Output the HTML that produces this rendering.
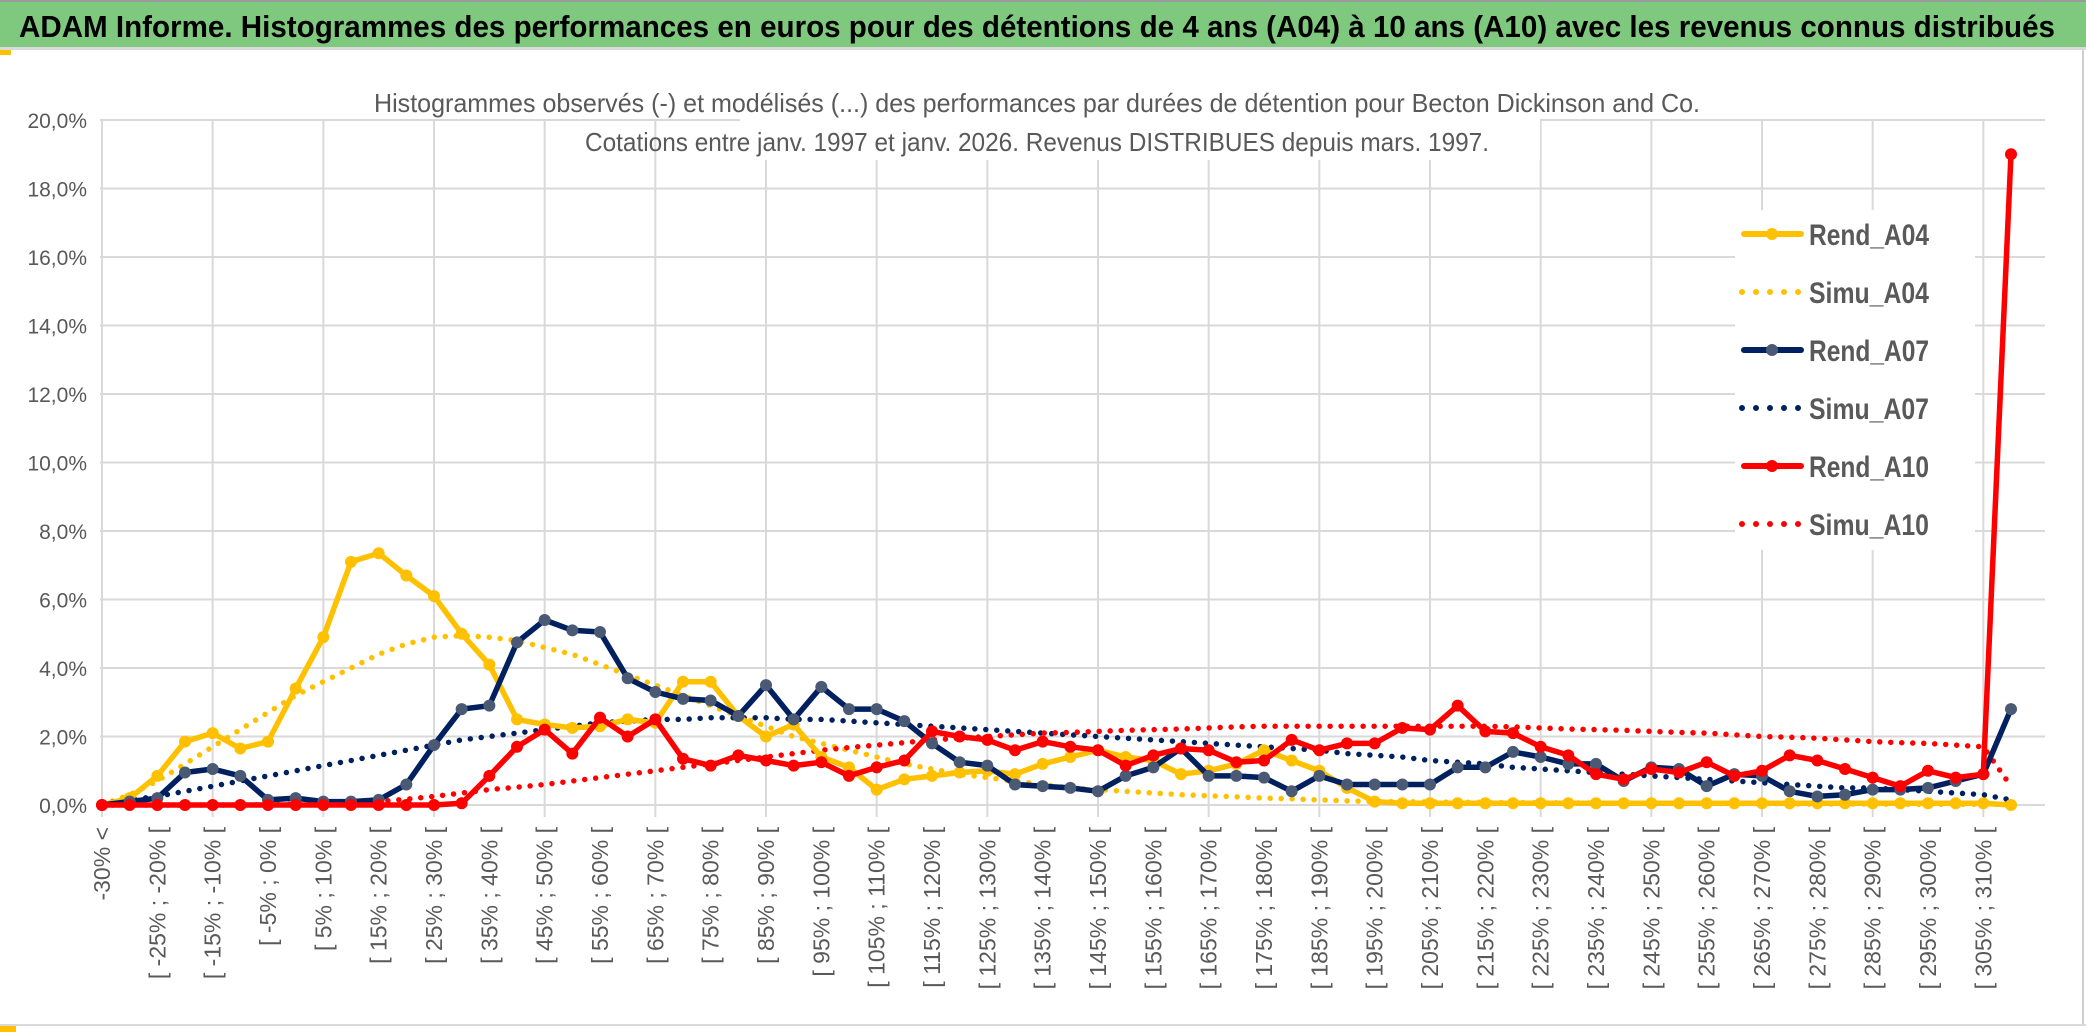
<!DOCTYPE html>
<html><head><meta charset="utf-8"><style>
html,body{margin:0;padding:0;background:#fff;}
svg{display:block;font-family:"Liberation Sans",sans-serif;}
</style></head><body>
<svg id="chart" width="2086" height="1033" viewBox="0 0 2086 1033">
<rect x="0" y="0" width="2086" height="1033" fill="#fff"/>
<rect x="0" y="0" width="2086" height="2" fill="#9a9a9a"/>
<rect x="0" y="2" width="2086" height="45" fill="#7ec97e"/>
<rect x="0" y="47" width="2086" height="3" fill="#d9d9d9"/>
<rect x="0" y="50" width="11" height="5" fill="#ffc000"/>
<rect x="2082" y="50" width="2" height="975" fill="#d0d0d0"/>
<text x="19" y="37" font-size="31" font-weight="bold" fill="#000" textLength="2036" lengthAdjust="spacingAndGlyphs">ADAM Informe. Histogrammes des performances en euros pour des détentions de 4 ans (A04) à 10 ans (A10) avec les revenus connus distribués</text>
<rect x="0" y="1024" width="2086" height="2" fill="#d9d9d9"/>
<rect x="0" y="1026" width="16" height="6" fill="#ffc000"/>
<g id="grid"></g>
<g id="series"></g>
<rect x="1735" y="210" width="240" height="340" fill="#fff"/>
<g id="legend"></g>
<rect x="740" y="80" width="800" height="80" fill="#fff"/>
<text x="1037" y="112" font-size="26" fill="#595959" text-anchor="middle" textLength="1326" lengthAdjust="spacingAndGlyphs">Histogrammes observés (-) et modélisés (...) des performances par durées de détention pour Becton Dickinson and Co.</text>
<text x="1037" y="151" font-size="26" fill="#595959" text-anchor="middle" textLength="904" lengthAdjust="spacingAndGlyphs">Cotations entre janv. 1997 et janv. 2026. Revenus DISTRIBUES depuis mars. 1997.</text>
<g id="axes"></g>
</svg>
<script>
const categories = ["-30% <"];
for (let k = -30; k <= 305; k += 5) categories.push("[ " + k + "% ; " + (k + 5) + "% [");
categories.push("> 310%");
const yTicks = [0, 2, 4, 6, 8, 10, 12, 14, 16, 18, 20];
const yTickLabels = ["0,0%","2,0%","4,0%","6,0%","8,0%","10,0%","12,0%","14,0%","16,0%","18,0%","20,0%"];
const rendA04 = [0,0.2,0.85,1.85,2.1,1.65,1.85,3.4,4.9,7.1,7.35,6.7,6.1,5.0,4.1,2.5,2.35,2.25,2.3,2.5,2.4,3.6,3.6,2.6,2.0,2.35,1.4,1.1,0.45,0.75,0.85,0.95,1.0,0.9,1.2,1.4,1.6,1.4,1.3,0.9,1.0,1.2,1.6,1.3,1.0,0.5,0.1,0.05,0.05,0.05,0.05,0.05,0.05,0.05,0.05,0.05,0.05,0.05,0.05,0.05,0.05,0.05,0.05,0.05,0.05,0.05,0.05,0.05,0.05,0];
const simuA04 = [0,0.3,0.7,1.2,1.7,2.2,2.7,3.2,3.6,4.0,4.4,4.7,4.9,4.95,4.9,4.8,4.6,4.4,4.1,3.8,3.5,3.2,2.9,2.6,2.3,2.0,1.8,1.6,1.4,1.2,1.05,0.9,0.8,0.7,0.6,0.5,0.45,0.4,0.35,0.3,0.27,0.24,0.2,0.18,0.15,0.12,0.1,0.1,0.09,0.08,0.08,0.07,0.07,0.06,0.06,0.05,0.05,0.05,0.04,0.04,0.04,0.03,0.03,0.03,0.03,0.02,0.02,0.02,0.02,0.02];
const rendA07 = [0,0.1,0.2,0.95,1.05,0.85,0.15,0.2,0.1,0.1,0.15,0.6,1.75,2.8,2.9,4.75,5.4,5.1,5.05,3.7,3.3,3.1,3.05,2.6,3.5,2.5,3.45,2.8,2.8,2.45,1.8,1.25,1.15,0.6,0.55,0.5,0.4,0.85,1.1,1.65,0.85,0.85,0.8,0.4,0.85,0.6,0.6,0.6,0.6,1.1,1.1,1.55,1.4,1.2,1.2,0.7,1.1,1.05,0.55,0.9,0.85,0.4,0.25,0.3,0.45,0.45,0.5,0.7,0.9,2.8];
const simuA07 = [0.05,0.15,0.25,0.4,0.55,0.7,0.85,1.0,1.15,1.3,1.45,1.6,1.75,1.9,2.0,2.1,2.2,2.3,2.4,2.45,2.5,2.5,2.55,2.55,2.55,2.5,2.5,2.45,2.4,2.35,2.3,2.25,2.2,2.15,2.1,2.05,2.0,1.95,1.9,1.85,1.8,1.75,1.7,1.65,1.6,1.5,1.45,1.4,1.3,1.25,1.2,1.1,1.05,1.0,0.95,0.9,0.85,0.8,0.75,0.7,0.65,0.6,0.55,0.5,0.5,0.45,0.4,0.35,0.3,0.15];
const rendA10 = [0,0,0,0,0,0,0,0,0,0,0,0,0,0.05,0.85,1.7,2.2,1.5,2.55,2.0,2.5,1.35,1.15,1.45,1.3,1.15,1.25,0.85,1.1,1.3,2.15,2.0,1.9,1.6,1.85,1.7,1.6,1.15,1.45,1.65,1.6,1.25,1.3,1.9,1.6,1.8,1.8,2.25,2.2,2.9,2.15,2.1,1.7,1.45,0.9,0.75,1.05,0.95,1.25,0.85,1.0,1.45,1.3,1.05,0.8,0.55,1.0,0.8,0.9,19.0];
const simuA10 = [0,0,0,0,0,0,0.01,0.02,0.03,0.05,0.1,0.17,0.25,0.35,0.45,0.52,0.6,0.7,0.8,0.9,1.0,1.1,1.2,1.3,1.4,1.5,1.6,1.68,1.75,1.82,1.9,1.95,2.0,2.05,2.1,2.12,2.15,2.18,2.2,2.22,2.25,2.28,2.3,2.3,2.3,2.3,2.3,2.3,2.3,2.3,2.3,2.28,2.25,2.22,2.2,2.18,2.15,2.12,2.1,2.05,2.0,1.98,1.95,1.9,1.85,1.82,1.8,1.75,1.7,0.55];

const X0 = 102, X1 = 2011, Y0 = 805, YTOP = 120;
const xs = i => X0 + (X1 - X0) * i / (categories.length - 1);
const ys = v => Y0 - (Y0 - YTOP) * v / 20;
const NS = "http://www.w3.org/2000/svg";
function mk(tag, attrs, parent) {
  const e = document.createElementNS(NS, tag);
  for (const k in attrs) e.setAttribute(k, attrs[k]);
  parent.appendChild(e);
  return e;
}
const grid = document.getElementById("grid");
const axes = document.getElementById("axes");
const series = document.getElementById("series");
const legend = document.getElementById("legend");

yTicks.forEach((t, i) => {
  const l = mk("line", {x1: X0 - 2, x2: 2045, y1: ys(t), y2: ys(t), stroke: "#d9d9d9", "stroke-width": 2}, grid);
  
  
  const tx = mk("text", {x: 87, y: ys(t) + 8, "font-size": 21, fill: "#595959", "text-anchor": "end"}, axes);
  tx.textContent = yTickLabels[i];
  
  
});
for (let i = 0; i < categories.length; i += 4) {
  const l = mk("line", {x1: xs(i), x2: xs(i), y1: YTOP, y2: Y0 + 12, stroke: "#d9d9d9", "stroke-width": 2}, grid);
  
  
}
for (let i = 0; i < categories.length; i += 2) {
  const tx = mk("text", {x: 0, y: 0, "font-size": 23, fill: "#595959", "text-anchor": "end",
    transform: "translate(" + (xs(i) + 8) + "," + (Y0 + 22) + ") rotate(-90)"}, axes);
  tx.textContent = categories[i];
  
  
}

function path(vals) {
  return vals.map((v, i) => (i ? "L" : "M") + xs(i).toFixed(1) + "," + ys(v).toFixed(1)).join("");
}
function dotted(vals, color, name) {
  const p = mk("path", {d: path(vals), fill: "none", stroke: color, "stroke-width": 5.5, "stroke-linecap": "round", "stroke-dasharray": "0 11"}, series);
  
  
}
function solid(vals, color, mcolor, name) {
  const p = mk("path", {d: path(vals), fill: "none", stroke: color, "stroke-width": 5.5, "stroke-linejoin": "round"}, series);
  
  
  vals.forEach((v, i) => {
    const c = mk("circle", {cx: xs(i), cy: ys(v), r: 6, fill: mcolor}, series);
    
    
  });
}
dotted(simuA04, "#ffc000", "simu-a04-line");
dotted(simuA07, "#002060", "simu-a07-line");
dotted(simuA10, "#ff0000", "simu-a10-line");
solid(rendA04, "#ffc000", "#ffc000", "rend-a04-line");
solid(rendA07, "#002060", "#4a5a75", "rend-a07-line");
solid(rendA10, "#ff0000", "#ff0000", "rend-a10-line");

const legendNames = ["Rend_A04","Simu_A04","Rend_A07","Simu_A07","Rend_A10","Simu_A10"];
const legendColors = ["#ffc000","#ffc000","#002060","#002060","#ff0000","#ff0000"];
legendNames.forEach((n, i) => {
  const y = 234 + i * 58;
  const g = mk("g", {}, legend);
  
  
  if (n.startsWith("Rend")) {
    mk("line", {x1: 1744, x2: 1801, y1: y, y2: y, stroke: legendColors[i], "stroke-width": 6, "stroke-linecap": "round"}, g);
    mk("circle", {cx: 1772, cy: y, r: 6, fill: i === 2 ? "#4a5a75" : legendColors[i]}, g);
  } else {
    mk("line", {x1: 1742, x2: 1800, y1: y, y2: y, stroke: legendColors[i], "stroke-width": 6, "stroke-linecap": "round", "stroke-dasharray": "0 14"}, g);
  }
  const t = mk("text", {x: 1809, y: y + 11, "font-size": 30, "font-weight": "bold", fill: "#595959", textLength: 120, lengthAdjust: "spacingAndGlyphs"}, g);
  t.textContent = n;
});
</script>
</body></html>
